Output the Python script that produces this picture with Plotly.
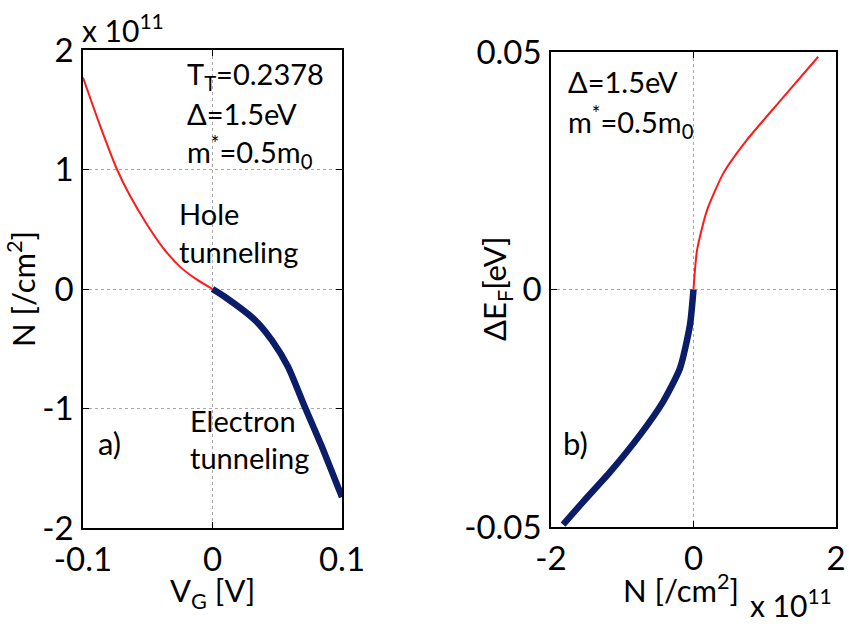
import plotly.graph_objects as go

# Panel a): sheet density N (units of 1e11 /cm^2) versus gate voltage V_G [V]
vg_hole = [-0.1, -0.0869, -0.0737, -0.0637, -0.0506, -0.0382, -0.025, -0.012, 0.0]
n_hole = [1.77, 1.37, 1.0, 0.78, 0.54, 0.345, 0.185, 0.078, 0.0]
vg_elec = [0.0, 0.0097, 0.0328, 0.0459, 0.0583, 0.0714, 0.0845, 0.097, 0.1]
n_elec = [0.0, -0.067, -0.26, -0.43, -0.65, -0.99, -1.32, -1.66, -1.74]

# Panel b): Fermi level shift [eV] versus N (units of 1e11 /cm^2)
n_pos = [0.0, 0.05, 0.19, 0.42, 0.75, 1.21, 1.75]
de_pos = [0.0, 0.0083, 0.0167, 0.0245, 0.0315, 0.0396, 0.049]
n_neg = [0.0, -0.05, -0.19, -0.43, -0.75, -1.17, -1.55, -1.83]
de_neg = [0.0, -0.0075, -0.0166, -0.0237, -0.0306, -0.0384, -0.0447, -0.0495]

a_xticks = [-0.1, 0, 0.1]
a_xlabels = ["-0.1", "0", "0.1"]
a_yticks = [-2, -1, 0, 1, 2]
a_ylabels = ["-2", "-1", "0", "1", "2"]
b_xticks = [-2, 0, 2]
b_xlabels = ["-2", "0", "2"]
b_yticks = [-0.05, 0, 0.05]
b_ylabels = ["-0.05", "0", "0.05"]

RED = "#ff1a1a"
BLUE = "#0b1c68"
FONT = "Lato"
W, H = 849, 628

fig = go.Figure()
smooth = dict(shape="spline", smoothing=0.6)
fig.add_trace(go.Scatter(x=vg_hole, y=n_hole, mode="lines",
                         line=dict(color=RED, width=2, **smooth), xaxis="x", yaxis="y"))
fig.add_trace(go.Scatter(x=vg_elec, y=n_elec, mode="lines",
                         line=dict(color=BLUE, width=6.5, **smooth), xaxis="x", yaxis="y"))
fig.add_trace(go.Scatter(x=n_pos, y=de_pos, mode="lines",
                         line=dict(color=RED, width=2, **smooth), xaxis="x2", yaxis="y2"))
fig.add_trace(go.Scatter(x=n_neg, y=de_neg, mode="lines",
                         line=dict(color=BLUE, width=6.5, **smooth), xaxis="x2", yaxis="y2"))

axis_style = dict(showline=True, linecolor="black", linewidth=1.5, mirror="ticks",
                  ticks="inside", ticklen=6, tickcolor="black", tickwidth=1,
                  showgrid=True, gridcolor="#a8a8a8", griddash="dot", gridwidth=1,
                  zeroline=False, tickfont=dict(family=FONT, size=33, color="black"),
                  tickmode="array", automargin=False)


def px_x(v):
    return v / W


def px_y(v):
    return 1 - v / H


fig.update_layout(
    width=W, height=H, margin=dict(l=0, r=0, t=0, b=0, autoexpand=False),
    paper_bgcolor="white", plot_bgcolor="white", showlegend=False,
    xaxis=dict(domain=[px_x(83), px_x(342)], range=[-0.1, 0.1],
               tickvals=a_xticks, ticktext=a_xlabels, anchor="y",
               ticklabelstandoff=2, **axis_style),
    yaxis=dict(domain=[px_y(528), px_y(50)], range=[-2, 2],
               tickvals=a_yticks, ticktext=a_ylabels, anchor="x",
               ticklabelstandoff=1, **axis_style),
    xaxis2=dict(domain=[px_x(551), px_x(836)], range=[-2, 2],
                tickvals=b_xticks, ticktext=b_xlabels, anchor="y2",
                ticklabelstandoff=2, **axis_style),
    yaxis2=dict(domain=[px_y(527), px_y(52)], range=[-0.05, 0.05],
                tickvals=b_yticks, ticktext=b_ylabels, anchor="x2",
                ticklabelstandoff=1, **axis_style),
)


def label(text, x, y, size=29, xanchor="left", angle=0):
    fig.add_annotation(text=text, x=px_x(x), y=px_y(y), xref="paper", yref="paper",
                       xanchor=xanchor, yanchor="middle", showarrow=False,
                       textangle=angle,
                       font=dict(family=FONT, size=size, color="black"))


# panel a) annotations
label("x 10<sup>11</sup>", 80, 28, size=30)
label("T<sub>T</sub>=0.2378", 185, 75)
label("Δ=1.5eV", 185, 113)
label("m<sup>*</sup>=0.5m<sub>0</sub>", 185, 152)
label("Hole", 177, 213)
label("tunneling", 177, 251)
label("Electron", 188, 420)
label("tunneling", 188, 458)
label("a)", 96, 443, size=31)
label("N [/cm<sup>2</sup>]", 22, 289, size=31, xanchor="center", angle=-90)
label("V<sub>G</sub> [V]", 212, 592, size=31, xanchor="center")

# panel b) annotations
label("Δ=1.5eV", 566, 82)
label("m<sup>*</sup>=0.5m<sub>0</sub>", 566, 122)
label("b)", 561, 443, size=31)
label("ΔE<sub>F</sub>[eV]", 497, 289, size=31, xanchor="center", angle=-90)
label("N [/cm<sup>2</sup>]", 681, 588, size=31, xanchor="center")
label("x 10<sup>11</sup>", 748, 603, size=30)

fig.write_html("out.html")
